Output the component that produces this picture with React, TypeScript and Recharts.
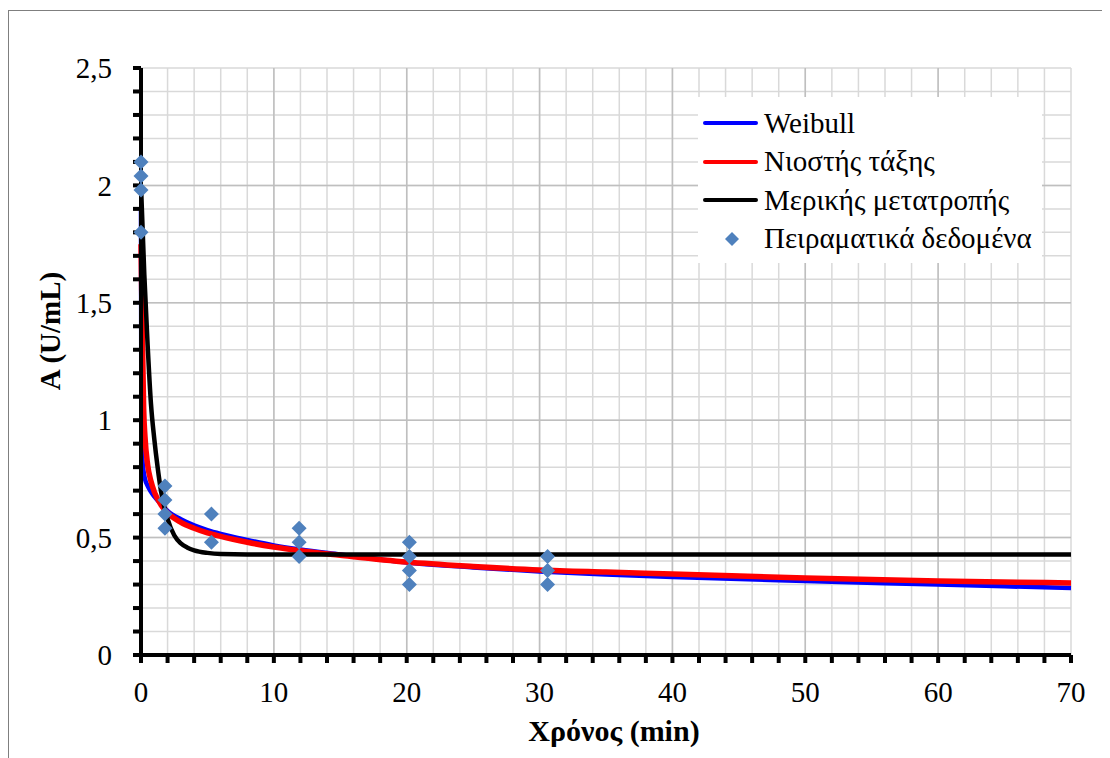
import {
  CartesianGrid,
  ComposedChart,
  Line,
  ReferenceLine,
  Scatter,
  XAxis,
  YAxis,
} from "recharts";

// model curves (time in min, activity in U/mL)
const weibullT = [0, 0.02, 0.05, 0.1, 0.2, 0.3, 0.5, 0.75, 1, 1.5, 2, 3, 4, 5, 6, 8, 10, 12, 15, 20, 25, 30, 35, 40, 50, 60, 70];
const weibullA = [1.9, 1.2, 0.95, 0.84, 0.78, 0.75, 0.72, 0.695, 0.675, 0.642, 0.614, 0.578, 0.552, 0.532, 0.516, 0.49, 0.467, 0.449, 0.428, 0.394, 0.373, 0.356, 0.343, 0.332, 0.315, 0.3, 0.285];

const nthT = [0, 0.05, 0.1, 0.2, 0.3, 0.5, 0.75, 1, 1.5, 2, 3, 4, 5, 6, 8, 10, 12, 15, 20, 25, 30, 35, 40, 50, 60, 70];
const nthA = [1.75, 1.55, 1.38, 1.05, 0.93, 0.81, 0.74, 0.695, 0.64, 0.605, 0.565, 0.54, 0.52, 0.505, 0.48, 0.46, 0.444, 0.425, 0.396, 0.377, 0.362, 0.353, 0.345, 0.328, 0.315, 0.307];

const partialT = [0, 0.25, 0.5, 0.75, 1, 1.25, 1.5, 2, 2.5, 3, 3.5, 4, 5, 6, 8, 10, 20, 30, 40, 50, 60, 70];
const partialA = [2.0, 1.62, 1.32, 1.07, 0.92, 0.8, 0.7, 0.58, 0.51, 0.475, 0.457, 0.446, 0.435, 0.43, 0.428, 0.428, 0.428, 0.428, 0.428, 0.428, 0.428, 0.428];

// experimental points
const expT = [0, 0, 0, 0, 1.8, 1.8, 1.8, 1.8, 5.3, 5.3, 11.9, 11.9, 11.9, 20.2, 20.2, 20.2, 20.2, 30.6, 30.6, 30.6];
const expA = [2.1, 2.04, 1.98, 1.8, 0.72, 0.66, 0.6, 0.54, 0.6, 0.48, 0.54, 0.48, 0.42, 0.48, 0.42, 0.36, 0.3, 0.42, 0.36, 0.3];

const xTicks = [0, 2, 4, 6, 8, 10, 12, 14, 16, 18, 20, 22, 24, 26, 28, 30, 32, 34, 36, 38, 40, 42, 44, 46, 48, 50, 52, 54, 56, 58, 60, 62, 64, 66, 68, 70];
const yTicks = [0, 0.1, 0.2, 0.3, 0.4, 0.5, 0.6, 0.7, 0.8, 0.9, 1, 1.1, 1.2, 1.3, 1.4, 1.5, 1.6, 1.7, 1.8, 1.9, 2, 2.1, 2.2, 2.3, 2.4, 2.5];
const xMajor = [10, 20, 30, 40, 50, 60];
const yMajor = [0.5, 1, 1.5, 2];

const seriesNames = ["Weibull", "Νιοστής τάξης", "Μερικής μετατροπής", "Πειραματικά δεδομένα"];
const seriesColors = ["#0000ff", "#ff0000", "#000000", "#4f81bd"];

const toPoints = (ts: number[], as: number[]) => ts.map((t, i) => ({ t, a: as[i] }));

const weibullData = toPoints(weibullT, weibullA);
const nthData = toPoints(nthT, nthA);
const partialData = toPoints(partialT, partialA);
const expData = toPoints(expT, expA);

const FONT = "Liberation Serif";

const formatY = (v: number) =>
  Math.abs(v * 2 - Math.round(v * 2)) < 1e-6 ? String(v).replace(".", ",") : "";
const formatX = (v: number) => (v % 10 === 0 ? String(v) : "");

function Diamond(props: any) {
  const { cx, cy } = props;
  const r = 7.5;
  return (
    <polygon
      points={`${cx},${cy - r} ${cx + r},${cy} ${cx},${cy + r} ${cx - r},${cy}`}
      fill={seriesColors[3]}
    />
  );
}

function LegendBox() {
  return (
    <div
      style={{
        position: "absolute",
        left: 689,
        top: 86,
        background: "#fff",
        width: 344,
        height: 166,
        paddingTop: 7,
        boxSizing: "border-box",
        fontFamily: FONT,
        fontSize: 29,
        color: "#000",
      }}
    >
      {seriesNames.map((name, i) => (
        <div key={name} style={{ display: "flex", alignItems: "center", height: 38.5 }}>
          <div style={{ width: 66, position: "relative", height: 20, flexShrink: 0 }}>
            {i < 3 ? (
              <div
                style={{
                  position: "absolute",
                  left: 5,
                  top: 8,
                  width: 55,
                  height: 4,
                  borderRadius: 2,
                  background: seriesColors[i],
                }}
              />
            ) : (
              <svg width={66} height={20} style={{ position: "absolute", left: 0, top: 0 }}>
                <polygon points="34,3 41,10 34,17 27,10" fill={seriesColors[3]} />
              </svg>
            )}
          </div>
          <span style={{ lineHeight: 1, whiteSpace: "nowrap" }}>{name}</span>
        </div>
      ))}
    </div>
  );
}

export default function App() {
  const width = 1101;
  const height = 747;
  return (
    <div
      style={{
        position: "relative",
        marginTop: 2,
        width: 1102,
        height: 750,
        borderLeft: "1px solid #7f7f7f",
        borderTop: "1px solid #7f7f7f",
      }}
    >
      <ComposedChart
        width={width}
        height={height}
        margin={{ top: 57, right: 39, left: 52, bottom: 13 }}
      >
        <CartesianGrid stroke="#d9d9d9" strokeWidth={1.5} />
        {xMajor.map((v) => (
          <ReferenceLine key={`x${v}`} x={v} stroke="#bfbfbf" strokeWidth={1.5} />
        ))}
        {yMajor.map((v) => (
          <ReferenceLine key={`y${v}`} y={v} stroke="#bfbfbf" strokeWidth={1.5} />
        ))}
        <XAxis
          type="number"
          dataKey="t"
          domain={[0, 70]}
          ticks={xTicks}
          interval={0}
          tickFormatter={formatX}
          height={90}
          tickSize={8}
          tickMargin={18}
          axisLine={{ stroke: "#000", strokeWidth: 4 }}
          tickLine={{ stroke: "#000", strokeWidth: 4 }}
          tick={{ fill: "#000", fontSize: 29, fontFamily: FONT }}
          label={{
            content: () => (
              <text
                x={605}
                y={730}
                textAnchor="middle"
                fontFamily={FONT}
                fontSize={30}
                fontWeight="bold"
                fill="#000"
              >
                Χρόνος (min)
              </text>
            ),
          }}
        />
        <YAxis
          type="number"
          dataKey="a"
          domain={[0, 2.5]}
          ticks={yTicks}
          interval={0}
          tickFormatter={formatY}
          width={80}
          tickSize={8}
          tickMargin={21}
          axisLine={{ stroke: "#000", strokeWidth: 4 }}
          tickLine={{ stroke: "#000", strokeWidth: 4 }}
          tick={{ fill: "#000", fontSize: 29, fontFamily: FONT }}
          label={{
            content: () => (
              <text
                x={0}
                y={0}
                transform="translate(51 320) rotate(-90)"
                textAnchor="middle"
                fontFamily={FONT}
                fontSize={29}
                fontWeight="bold"
                fill="#000"
              >
                A (U/mL)
              </text>
            ),
          }}
        />
        <Line
          data={weibullData}
          dataKey="a"
          type="monotone"
          stroke={seriesColors[0]}
          strokeWidth={4.5}
          dot={false}
          isAnimationActive={false}
        />
        <Line
          data={nthData}
          dataKey="a"
          type="monotone"
          stroke={seriesColors[1]}
          strokeWidth={5.5}
          dot={false}
          isAnimationActive={false}
        />
        <Line
          data={partialData}
          dataKey="a"
          type="monotone"
          stroke={seriesColors[2]}
          strokeWidth={4.5}
          dot={false}
          isAnimationActive={false}
        />
        <Scatter data={expData} dataKey="a" shape={Diamond} isAnimationActive={false} />
      </ComposedChart>
      <LegendBox />
    </div>
  );
}
